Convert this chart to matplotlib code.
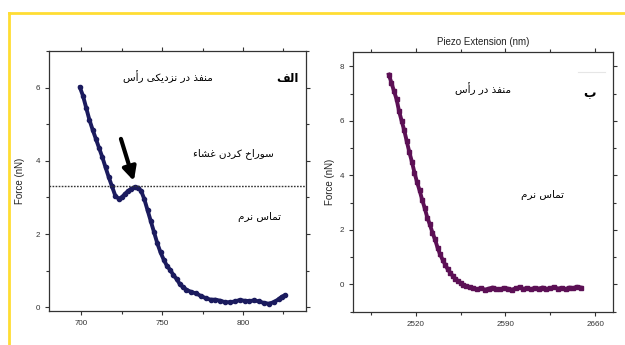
import matplotlib
matplotlib.use("Agg")
import matplotlib.pyplot as plt
from matplotlib.lines import Line2D
from matplotlib.ticker import MultipleLocator

# ---------------- data ----------------
left_x = [699, 701, 703, 705, 707, 709, 711, 713, 715, 717, 719, 721, 723, 725, 727,
          729, 731, 733, 735, 737, 739, 741, 743, 745, 747, 749, 751, 753, 755, 757,
          759, 761, 763, 765, 768, 771, 774, 777, 780, 783, 786, 789, 792, 795, 798,
          801, 804, 807, 810, 813, 816, 819, 822, 824, 826]
left_y = [6.02, 5.78, 5.45, 5.12, 4.85, 4.6, 4.35, 4.1, 3.82, 3.55, 3.3, 3.05, 2.97, 3.0, 3.1,
          3.18, 3.24, 3.28, 3.27, 3.18, 2.95, 2.65, 2.35, 2.05, 1.75, 1.5, 1.3, 1.13, 1.02, 0.88,
          0.77, 0.63, 0.55, 0.48, 0.42, 0.38, 0.31, 0.25, 0.21, 0.21, 0.18, 0.14, 0.14, 0.16, 0.2,
          0.18, 0.17, 0.19, 0.16, 0.12, 0.1, 0.14, 0.22, 0.29, 0.33]

right_x = [2499, 2501, 2503, 2505, 2507, 2509, 2511, 2513, 2515, 2517, 2519, 2521, 2523,
           2525, 2527, 2529, 2531, 2533, 2535, 2537, 2539, 2541, 2543, 2545, 2547, 2549,
           2551, 2553, 2555, 2557, 2559,
           2562, 2565, 2568, 2571, 2574, 2577, 2580, 2583, 2586, 2589, 2592, 2595, 2598,
           2601, 2604, 2607, 2610, 2613, 2616, 2619, 2622, 2625, 2628, 2631, 2634, 2637,
           2640, 2643, 2646, 2649]
right_y = [7.7, 7.4, 7.1, 6.8, 6.35, 6.0, 5.65, 5.25, 4.85, 4.5, 4.1, 3.75, 3.45,
           3.1, 2.8, 2.45, 2.2, 1.9, 1.65, 1.35, 1.1, 0.9, 0.72, 0.55, 0.42, 0.3,
           0.2, 0.12, 0.05, -0.02, -0.06,
           -0.1, -0.15, -0.18, -0.14, -0.2, -0.16, -0.12, -0.17, -0.19, -0.13, -0.16, -0.2, -0.15,
           -0.11, -0.17, -0.14, -0.18, -0.13, -0.16, -0.12, -0.17, -0.15, -0.1, -0.16, -0.13,
           -0.18, -0.12, -0.14, -0.09, -0.12]

threshold = 3.32
arrow_start = (724.5, 4.6)
arrow_tip = (732.5, 3.45)

left_xticks = [700, 750, 800]
left_yticks = [0, 2, 4, 6]
right_xticks = [2520, 2590, 2660]
right_yticks = [0, 2, 4, 6, 8]

ylabel = "Force (nN)"
top_title = "Piezo Extension (nm)"
label_a = "الف"
label_b = "ب"
left_texts = ["منفذ در نزدیکی رأس", "سوراخ کردن غشاء", "تماس نرم"]
right_texts = ["منفذ در رأس", "تماس نرم"]

# -------- simple Persian shaping (presentation forms + RTL order) --------
FORMS = {
    '\u0627': ('\uFE8D', '\uFE8E', None, None),
    '\u0623': ('\uFE83', '\uFE84', None, None),
    '\u0628': ('\uFE8F', '\uFE90', '\uFE91', '\uFE92'),
    '\u062A': ('\uFE95', '\uFE96', '\uFE97', '\uFE98'),
    '\u062E': ('\uFEA5', '\uFEA6', '\uFEA7', '\uFEA8'),
    '\u062F': ('\uFEA9', '\uFEAA', None, None),
    '\u0630': ('\uFEAB', '\uFEAC', None, None),
    '\u0631': ('\uFEAD', '\uFEAE', None, None),
    '\u0632': ('\uFEAF', '\uFEB0', None, None),
    '\u0633': ('\uFEB1', '\uFEB2', '\uFEB3', '\uFEB4'),
    '\u0634': ('\uFEB5', '\uFEB6', '\uFEB7', '\uFEB8'),
    '\u063A': ('\uFECD', '\uFECE', '\uFECF', '\uFED0'),
    '\u0641': ('\uFED1', '\uFED2', '\uFED3', '\uFED4'),
    '\u0644': ('\uFEDD', '\uFEDE', '\uFEDF', '\uFEE0'),
    '\u0645': ('\uFEE1', '\uFEE2', '\uFEE3', '\uFEE4'),
    '\u0646': ('\uFEE5', '\uFEE6', '\uFEE7', '\uFEE8'),
    '\u0648': ('\uFEED', '\uFEEE', None, None),
    '\u0621': ('\uFE80', None, None, None),
    '\u06A9': ('\uFB8E', '\uFB8F', '\uFB90', '\uFB91'),
    '\u06CC': ('\uFBFC', '\uFBFD', '\uFBFE', '\uFBFF'),
}


def shape(s):
    out = []
    n = len(s)
    for i, c in enumerate(s):
        f = FORMS.get(c)
        if f is None:
            out.append(c)
            continue
        prev = FORMS.get(s[i - 1]) if i > 0 else None
        nxt = FORMS.get(s[i + 1]) if i < n - 1 else None
        jp = prev is not None and prev[2] is not None and f[1] is not None
        jn = f[2] is not None and nxt is not None and nxt[1] is not None
        if jp and jn:
            g = f[3]
        elif jp:
            g = f[1]
        elif jn:
            g = f[2]
        else:
            g = f[0]
        out.append(g)
    return ''.join(out)[::-1]


plt.rcParams['font.family'] = ['Liberation Sans', 'DejaVu Sans']
FA = ['DejaVu Sans']

fig = plt.figure(figsize=(6.25, 3.45), dpi=100)
fig.patch.set_facecolor('white')

# yellow frame
yc = '#FFDD33'
fig.add_artist(Line2D([9 / 625, 1.0], [1 - 13 / 345, 1 - 13 / 345], color=yc, lw=2.0,
                      transform=fig.transFigure))
fig.add_artist(Line2D([9 / 625, 9 / 625], [0, 1 - 13 / 345], color=yc, lw=2.0,
                      transform=fig.transFigure))

ax1 = fig.add_axes([49 / 625, 34 / 345, 257 / 625, 260 / 345])
ax2 = fig.add_axes([353 / 625, 33.5 / 345, 260 / 625, 260 / 345])

for ax in (ax1, ax2):
    for sp in ax.spines.values():
        sp.set_color('#333333')
        sp.set_linewidth(0.9)
    ax.tick_params(which='both', direction='out', top=True, right=True,
                   labeltop=False, labelright=False, colors='#333333',
                   labelsize=5.8, width=0.8)
    ax.tick_params(which='major', length=3)
    ax.tick_params(which='minor', length=2)

# left panel
ax1.plot(left_x, left_y, color='#1b1b5e', lw=2.8, marker='o', ms=3.0,
         solid_capstyle='round')
ax1.axhline(threshold, color='#333333', lw=1.0, ls=(0, (1.2, 1.0)))
ax1.annotate('', xy=arrow_tip, xytext=arrow_start,
             arrowprops=dict(arrowstyle='-|>,head_width=0.4,head_length=0.8',
                             color='black', lw=3.0, shrinkA=0, shrinkB=0))
ax1.set_xlim(680, 839)
ax1.set_ylim(-0.1, 7.0)
ax1.set_xticks(left_xticks)
ax1.set_yticks(left_yticks)
ax1.xaxis.set_minor_locator(MultipleLocator(25))
ax1.yaxis.set_minor_locator(MultipleLocator(1))
ax1.set_ylabel(ylabel, fontsize=7, color='#222222')
ax1.yaxis.set_label_coords(-0.093, 0.5)

ax1.text(753.7, 6.31, shape(left_texts[0]), family=FA, fontsize=7.5, ha='center', va='center')
ax1.text(827.5, 6.25, shape(label_a), family=FA, fontsize=8.5, fontweight='bold', ha='center', va='center')
ax1.text(793.8, 4.21, shape(left_texts[1]), family=FA, fontsize=7.5, ha='center', va='center')
ax1.text(810.5, 2.46, shape(left_texts[2]), family=FA, fontsize=7.5, ha='center', va='center')

# right panel
ax2.plot(right_x, right_y, color='#5c1055', lw=2.8, marker='s', ms=3.2)
ax2.set_xlim(2471, 2674)
ax2.set_ylim(-1.0, 8.55)
ax2.set_xticks(right_xticks)
ax2.set_yticks(right_yticks)
ax2.xaxis.set_minor_locator(MultipleLocator(35))
ax2.yaxis.set_minor_locator(MultipleLocator(1))
ax2.set_ylabel(ylabel, fontsize=7, color='#222222')
ax2.yaxis.set_label_coords(-0.07, 0.5)
ax2.text(0.5, 1.038, top_title, transform=ax2.transAxes, fontsize=7, ha='center',
         va='center', color='#222222')
ax2.add_line(Line2D([0.865, 0.969], [0.921, 0.921], transform=ax2.transAxes,
                    color='#e6e6e6', lw=0.8))

ax2.text(2572.4, 7.2, shape(right_texts[0]), family=FA, fontsize=7.5, ha='center', va='center')
ax2.text(2656, 7.02, shape(label_b), family=FA, fontsize=9, fontweight='bold', ha='center', va='center')
ax2.text(2619.3, 3.27, shape(right_texts[1]), family=FA, fontsize=7.5, ha='center', va='center')

fig.savefig('out.png', dpi=100, facecolor='white')
